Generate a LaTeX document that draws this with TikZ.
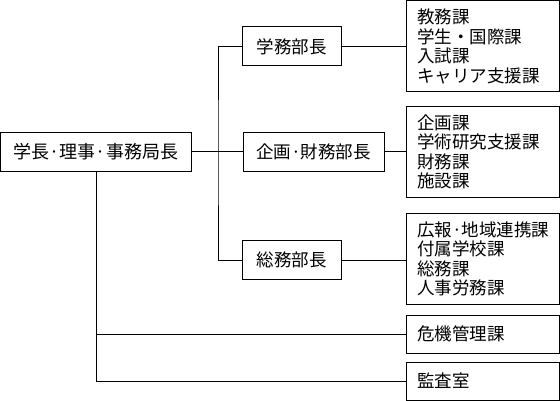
\documentclass[tikz,border=0pt]{standalone}
\usepackage{fontspec}
\setmainfont{Noto Sans CJK JP}
\begin{document}
\begin{tikzpicture}[x=1pt,y=-1pt,line width=1pt,
  box/.style={draw=black,rectangle,inner sep=0pt,minimum height=39pt,font=\fontsize{17.5}{19}\selectfont},
  listbox/.style={draw=black,rectangle,inner xsep=11pt,inner ysep=0pt,minimum height=91pt,
     text width=131pt,align=left,font=\fontsize{17.5}{19.5}\selectfont},
  onebox/.style={draw=black,rectangle,inner xsep=11pt,inner ysep=0pt,minimum height=38pt,
     text width=131pt,align=left,font=\fontsize{17.5}{19}\selectfont}]
\useasboundingbox (0,0) rectangle (560,401);
\node[box,minimum width=191pt,font=\fontsize{18}{19}\selectfont] (main) at (96,152) {学長·理事·事務局長};
\node[box,minimum width=99pt] (b1) at (291.5,46.5) {学務部長};
\node[box,minimum width=141pt] (b2) at (313.5,152) {企画·財務部長};
\node[box,minimum width=99pt] (b3) at (291.5,260) {総務部長};
\node[listbox] (r1) at (482.5,46.5) {教務課\\学生・国際課\\入試課\\キャリア支援課};
\node[listbox] (r2) at (482.5,152) {企画課\\学術研究支援課\\財務課\\施設課};
\node[listbox] (r3) at (482.5,259) {広報·地域連携課\\付属学校課\\総務課\\人事労務課};
\node[onebox] (r4) at (482.5,334) {危機管理課};
\node[onebox] (r5) at (482.5,381) {監査室};
\coordinate (tr) at (218,152);
\draw (main.east) -- (b2.west);
\draw (b1.west) -| (tr) |- (b3.west);
\draw (b1.east) -- (b1.east -| r1.west);
\draw (b2.east) -- (b2.east -| r2.west);
\draw (b3.east) -- (b3.east -| r3.west);
\draw (main.south) |- (r5.west);
\draw (main.south |- r4.west) -- (r4.west);
\end{tikzpicture}
\end{document}
